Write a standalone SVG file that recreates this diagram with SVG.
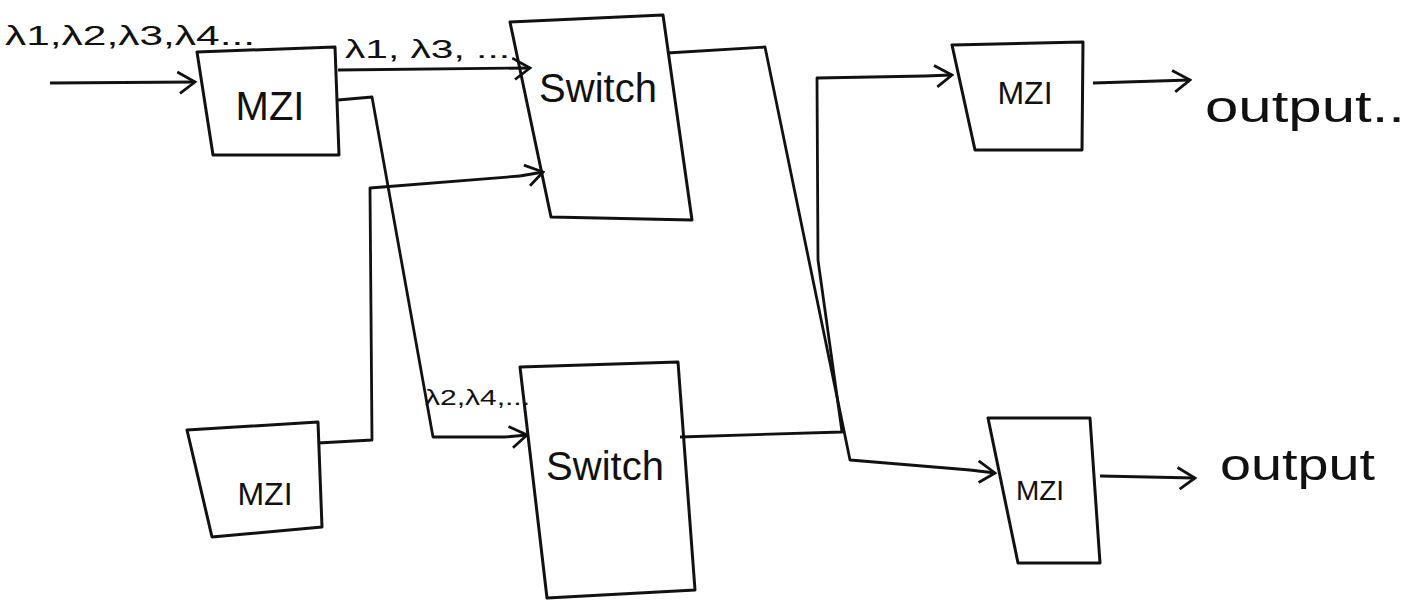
<svg xmlns="http://www.w3.org/2000/svg" width="1425" height="605" viewBox="0 0 1425 605">
<style>
.box{fill:none;stroke:#111;stroke-width:3;stroke-linejoin:round}
.wire{fill:none;stroke:#111;stroke-width:2.8;stroke-linejoin:round}
.arr{marker-end:url(#open)}
.lbl{font-family:"Liberation Sans",Arial,sans-serif;fill:#111}
.big{font-size:40px}
.mid{font-size:32px}
.sm{font-size:28px}
</style>
<defs>
<marker id="open" viewBox="0 0 20 20" refX="18" refY="10" markerWidth="9" markerHeight="9" markerUnits="strokeWidth" orient="auto">
<polyline points="4,2 18,10 6,19" fill="none" stroke="#111" stroke-width="2.2"/>
</marker>
</defs>
<rect width="1425" height="605" fill="#fff"/>
<g id="connectors">
<polyline class="wire arr" points="50,83 195,82"/>
<polyline class="wire arr" points="338,70 530,68"/>
<polyline class="wire" points="338,100 372,97 433,437 505,437"/>
<line class="wire arr" x1="505" y1="437" x2="527" y2="435"/>
<polyline class="wire" points="318,443 372,440 370,188 520,176"/>
<line class="wire arr" x1="520" y1="176" x2="543" y2="172"/>
<polyline class="wire" points="667,53 765,47 850,460 970,470"/>
<line class="wire arr" x1="970" y1="470" x2="995" y2="473"/>
<polyline class="wire" points="680,437 842,432 818,260 817,78 925,76"/>
<line class="wire arr" x1="925" y1="76" x2="952" y2="75"/>
<polyline class="wire arr" points="1093,83 1190,80"/>
<polyline class="wire arr" points="1100,476 1195,478"/>
</g>
<g id="label-in"><text class="lbl" font-size="27" x="5" y="45" textLength="250" lengthAdjust="spacingAndGlyphs">λ1,λ2,λ3,λ4...</text></g>
<g id="label-13"><text class="lbl" font-size="26" x="345" y="58" textLength="165" lengthAdjust="spacingAndGlyphs">λ1, λ3, ...</text></g>
<g id="label-24"><text class="lbl" font-size="22" x="425" y="405" textLength="105" lengthAdjust="spacingAndGlyphs">λ2,λ4,...</text></g>
<g id="mzi1">
<polygon class="box" points="197,52 335,47 339,155 213,155"/>
<text class="lbl big" x="270" y="120" text-anchor="middle">MZI</text>
</g>
<g id="mzi3">
<polygon class="box" points="187,430 318,422 322,527 212,537"/>
<text class="lbl mid" x="265" y="505" text-anchor="middle">MZI</text>
</g>
<g id="switch1">
<polygon class="box" points="510,22 663,15 692,220 551,217"/>
<text class="lbl big" x="598" y="102" text-anchor="middle">Switch</text>
</g>
<g id="switch2">
<polygon class="box" points="520,367 678,362 695,590 547,598"/>
<text class="lbl big" x="605" y="480" text-anchor="middle">Switch</text>
</g>
<g id="mzi2">
<polygon class="box" points="952,45 1083,42 1082,150 975,150"/>
<text class="lbl mid" x="1025" y="104" text-anchor="middle">MZI</text>
</g>
<g id="mzi4">
<polygon class="box" points="988,418 1090,418 1100,563 1018,563"/>
<text class="lbl" font-size="28" x="1040" y="500" text-anchor="middle">MZI</text>
</g>
<g id="out1"><text class="lbl" font-size="44" x="1205" y="122" textLength="200" lengthAdjust="spacingAndGlyphs">output..</text></g>
<g id="out2"><text class="lbl" font-size="44" x="1220" y="480" textLength="155" lengthAdjust="spacingAndGlyphs">output</text></g>
</svg>
